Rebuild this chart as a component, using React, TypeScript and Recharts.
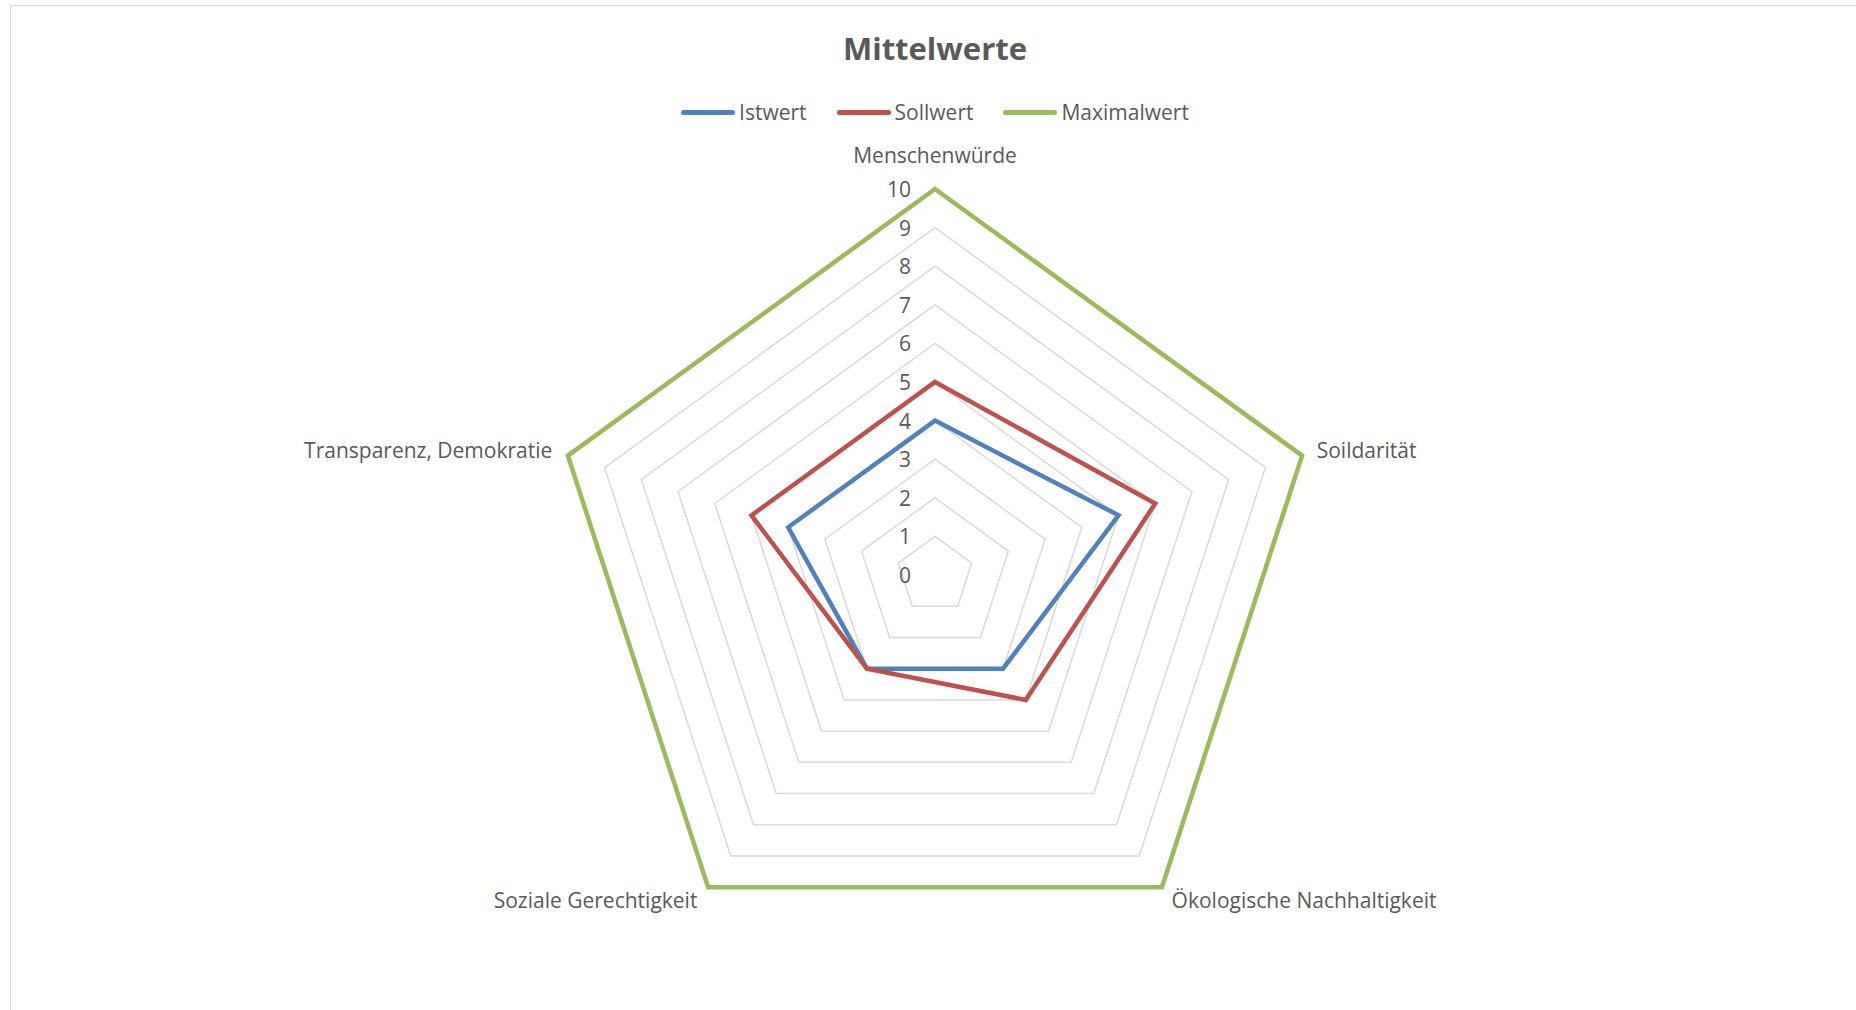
import React from "react";
import {
  RadarChart,
  Radar,
  PolarGrid,
  PolarAngleAxis,
  PolarRadiusAxis,
  Legend,
} from "recharts";

const categories = [
  "Menschenwürde",
  "Soildarität",
  "Ökologische Nachhaltigkeit",
  "Soziale Gerechtigkeit",
  "Transparenz, Demokratie",
];
const istwert = [4, 5, 3, 3, 4];
const sollwert = [5, 6, 4, 3, 5];
const maximalwert = [10, 10, 10, 10, 10];
const radiusTicks = [0, 1, 2, 3, 4, 5, 6, 7, 8, 9, 10];

const seriesInfo = [
  { key: "Istwert", color: "#4f81bd" },
  { key: "Sollwert", color: "#c0504d" },
  { key: "Maximalwert", color: "#9bbb59" },
];

const data = categories.map((name, i) => ({
  name,
  Istwert: istwert[i],
  Sollwert: sollwert[i],
  Maximalwert: maximalwert[i],
}));

const FONT = "'Open Sans', Lato, sans-serif";
const TEXT = "#595959";

// label nudges per category, relative to the recharts tick point
const labelShift = [
  { dx: 0, dy: -26, anchor: "middle" },
  { dx: 7, dy: -3, anchor: "start" },
  { dx: 5, dy: 6, anchor: "start" },
  { dx: -6, dy: 6, anchor: "end" },
  { dx: -8, dy: -3, anchor: "end" },
];

function AngleTick(props: any) {
  const { x, y, payload, index } = props;
  const s = labelShift[index] || { dx: 0, dy: 0, anchor: "middle" };
  return (
    <text
      x={x + s.dx}
      y={y + s.dy}
      textAnchor={s.anchor}
      dominantBaseline="central"
      fontSize={21}
      fontFamily={FONT}
      fill={TEXT}
    >
      {payload.value}
    </text>
  );
}

function RadiusTick(props: any) {
  const { x, y, payload } = props;
  return (
    <text
      x={x - 24}
      y={y}
      textAnchor="end"
      dominantBaseline="central"
      fontSize={21}
      fontFamily={FONT}
      fill={TEXT}
    >
      {payload.value}
    </text>
  );
}

function LegendContent() {
  return (
    <div
      style={{
        display: "flex",
        justifyContent: "center",
        alignItems: "center",
        fontFamily: FONT,
        fontSize: 21,
        color: TEXT,
      }}
    >
      {seriesInfo.map((s) => (
        <div
          key={s.key}
          style={{ display: "flex", alignItems: "center", margin: "0 15px" }}
        >
          <span
            style={{
              display: "inline-block",
              width: 54,
              height: 5,
              borderRadius: 3,
              background: s.color,
              marginRight: 4,
            }}
          />
          <span>{s.key}</span>
        </div>
      ))}
    </div>
  );
}

export default function App() {
  return (
    <div
      style={{
        position: "fixed",
        left: 0,
        top: 0,
        width: 1856,
        height: 1010,
        overflow: "hidden",
        background: "#fff",
      }}
    >
      <div
        style={{
          position: "absolute",
          left: 10,
          top: 5,
          width: 1900,
          height: 1100,
          border: "1px solid #d9d9d9",
        }}
      />
      <div
        style={{
          position: "absolute",
          left: 0,
          top: 27,
          width: 1870,
          textAlign: "center",
          fontFamily: FONT,
          fontWeight: 700,
          fontSize: 31,
          color: TEXT,
        }}
      >
        Mittelwerte
      </div>
      <div style={{ position: "absolute", left: 0, top: 0 }}>
        <RadarChart
          width={1856}
          height={1010}
          data={data}
          cx={935}
          cy={575}
          outerRadius={386}
          margin={{ top: 0, right: 0, bottom: 0, left: 0 }}
        >
          <PolarGrid
            gridType="polygon"
            radialLines={false}
            stroke="#d9d9d9"
            strokeWidth={1.5}
          />
          <PolarAngleAxis
            dataKey="name"
            axisLine={false}
            tickLine={false}
            tick={<AngleTick />}
          />
          <PolarRadiusAxis
            angle={90}
            domain={[0, 10]}
            ticks={radiusTicks as any}
            tickCount={11}
            axisLine={false}
            tick={<RadiusTick />}
          />
          {seriesInfo.map((s) => (
            <Radar
              key={s.key}
              dataKey={s.key}
              stroke={s.color}
              strokeWidth={4.5}
              fill="none"
              fillOpacity={0}
              isAnimationActive={false}
            />
          ))}
          <Legend
            verticalAlign="top"
            content={<LegendContent />}
            wrapperStyle={{ top: 98, left: 0, width: 1870 }}
          />
        </RadarChart>
      </div>
    </div>
  );
}
